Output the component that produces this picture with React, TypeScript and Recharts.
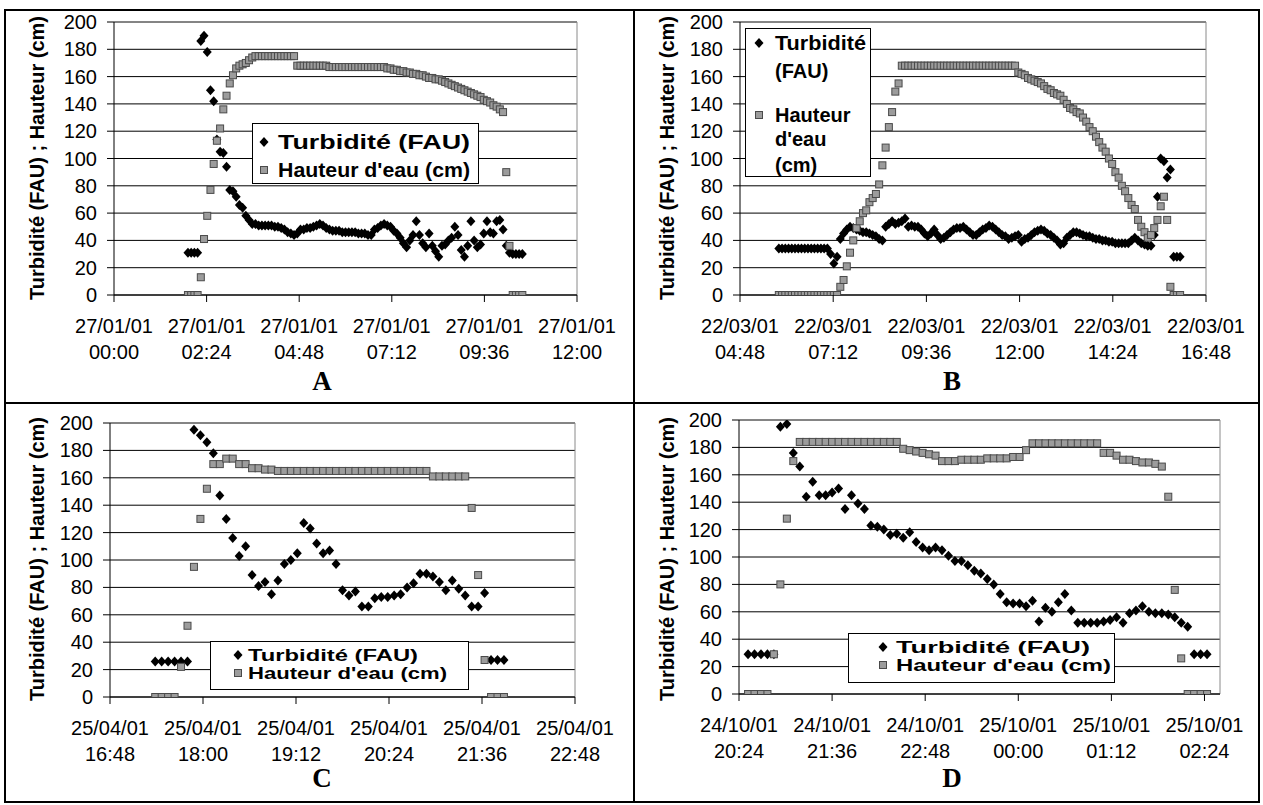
import React from 'react';
import { ScatterChart, Scatter, XAxis, YAxis, CartesianGrid, ReferenceLine } from 'recharts';

const FONT = '"Liberation Sans", Arial, sans-serif';
const SERIF = '"Liberation Serif", "Times New Roman", serif';

const yTicks = [0, 20, 40, 60, 80, 100, 120, 140, 160, 180, 200];

// ---------- Panel A (minutes after 27/01/01 00:00) ----------
const aTime = [
  115, 120, 125, 130, 135, 140, 145, 150, 155, 160,
  165, 170, 175, 180, 185, 190, 195, 200, 205, 210,
  215, 220, 225, 230, 235, 240, 245, 250, 255, 260,
  265, 270, 275, 280, 285, 290, 295, 300, 305, 310,
  315, 320, 325, 330, 335, 340, 345, 350, 355, 360,
  365, 370, 375, 380, 385, 390, 395, 400, 405, 410,
  415, 420, 425, 430, 435, 440, 445, 450, 455, 460,
  465, 470, 475, 480, 485, 490, 495, 500, 505, 510,
  515, 520, 525, 530, 535, 540, 545, 550, 555, 560,
  565, 570, 575, 580, 585, 590, 595, 600, 605, 610,
  615, 620, 625, 630, 635,
];
const aTurb = [
  31, 31, 31, 31, 186, 190, 178, 150, 142, 114,
  105, 104, 94, 77, 76, 72, 66, 64, 58, 55,
  52, 52, 51, 51, 51, 51, 51, 50, 50, 49,
  48, 46, 45, 44, 45, 48, 48, 49, 49, 50,
  51, 52, 51, 49, 48, 47, 47, 47, 46, 46,
  46, 46, 46, 45, 45, 45, 44, 44, 48, 49,
  51, 52, 51, 50, 47, 45, 42, 38, 35, 40,
  44, 54, 44, 38, 35, 45, 36, 32, 28, 36,
  37, 40, 42, 50, 44, 33, 28, 36, 54, 40,
  35, 37, 45, 54, 46, 45, 54, 55, 48, 36,
  31, 30, 30, 30, 30,
];
const aHaut = [
  0, 0, 0, 0, 13, 41, 58, 77, 96, 113,
  122, 136, 146, 155, 161, 166, 168, 169, 170, 172,
  174, 175, 175, 175, 175, 175, 175, 175, 175, 175,
  175, 175, 175, 175, 168, 168, 168, 168, 168, 168,
  168, 168, 168, 168, 167, 167, 167, 167, 167, 167,
  167, 167, 167, 167, 167, 167, 167, 167, 167, 167,
  167, 167, 166, 166, 165, 165, 164, 164, 163, 163,
  162, 162, 161, 161, 160, 159, 159, 158, 158, 157,
  156, 155, 154, 153, 152, 151, 150, 149, 148, 147,
  146, 145, 143, 142, 141, 139, 138, 136, 134, 90,
  36, 0, 0, 0, 0,
];
const aTickVals = [0, 144, 288, 432, 576, 720];
const aTickDates = ['27/01/01', '27/01/01', '27/01/01', '27/01/01', '27/01/01', '27/01/01'];
const aTickTimes = ['00:00', '02:24', '04:48', '07:12', '09:36', '12:00'];

// ---------- Panel B (minutes after 22/03/01 04:48) ----------
const bTime = [
  60, 65, 70, 75, 80, 85, 90, 95, 100, 105,
  110, 115, 120, 125, 130, 135, 140, 145, 150, 155,
  160, 165, 170, 175, 180, 185, 190, 195, 200, 205,
  210, 215, 220, 225, 230, 235, 240, 245, 250, 255,
  260, 265, 270, 275, 280, 285, 290, 295, 300, 305,
  310, 315, 320, 325, 330, 335, 340, 345, 350, 355,
  360, 365, 370, 375, 380, 385, 390, 395, 400, 405,
  410, 415, 420, 425, 430, 435, 440, 445, 450, 455,
  460, 465, 470, 475, 480, 485, 490, 495, 500, 505,
  510, 515, 520, 525, 530, 535, 540, 545, 550, 555,
  560, 565, 570, 575, 580, 585, 590, 595, 600, 605,
  610, 615, 620, 625, 630, 635, 640, 645, 650, 655,
  660, 665, 670, 675, 680,
];
const bTurb = [
  34, 34, 34, 34, 34, 34, 34, 34, 34, 34,
  34, 34, 34, 34, 34, 34, 30, 23, 28, 41,
  45, 48, 50, 49, 48, 47, 46, 46, 45, 44,
  43, 41, 40, 50, 52, 54, 52, 53, 54, 56,
  50, 51, 50, 50, 48, 45, 43, 45, 48, 44,
  41, 42, 44, 46, 48, 49, 49, 50, 48, 46,
  44, 44, 46, 48, 49, 51, 50, 48, 46, 44,
  43, 41, 42, 43, 44, 39, 41, 42, 44, 46,
  47, 48, 47, 45, 44, 42, 40, 37, 38, 42,
  44, 46, 46, 45, 44, 43, 43, 42, 41, 41,
  40, 40, 39, 39, 38, 38, 38, 38, 38, 40,
  42, 40, 38, 37, 36, 36, 44, 72, 100, 98,
  86, 92, 28, 28, 28,
];
const bHaut = [
  0, 0, 0, 0, 0, 0, 0, 0, 0, 0,
  0, 0, 0, 0, 0, 0, 0, 0, 0, 6,
  11, 21, 31, 40, 49, 54, 60, 62, 68, 71,
  74, 81, 95, 108, 123, 134, 149, 155, 168, 168,
  168, 168, 168, 168, 168, 168, 168, 168, 168, 168,
  168, 168, 168, 168, 168, 168, 168, 168, 168, 168,
  168, 168, 168, 168, 168, 168, 168, 168, 168, 168,
  168, 168, 168, 168, 163, 162, 161, 159, 158, 157,
  156, 155, 153, 151, 150, 148, 147, 146, 143, 140,
  137, 136, 134, 133, 130, 127, 123, 120, 116, 112,
  108, 105, 100, 96, 90, 86, 80, 76, 71, 66,
  63, 55, 50, 46, 42, 44, 49, 55, 65, 72,
  55, 6, 0, 0, 0,
];
const bTickVals = [0, 144, 288, 432, 576, 720];
const bTickDates = ['22/03/01', '22/03/01', '22/03/01', '22/03/01', '22/03/01', '22/03/01'];
const bTickTimes = ['04:48', '07:12', '09:36', '12:00', '14:24', '16:48'];

// ---------- Panel C (minutes after 25/04/01 16:48) ----------
const cTime = [
  35, 40, 45, 50, 55, 60, 65, 70, 75, 80,
  85, 90, 95, 100, 105, 110, 115, 120, 125, 130,
  135, 140, 145, 150, 155, 160, 165, 170, 175, 180,
  185, 190, 195, 200, 205, 210, 215, 220, 225, 230,
  235, 240, 245, 250, 255, 260, 265, 270, 275, 280,
  285, 290, 295, 300, 305,
];
const cTurb = [
  26, 26, 26, 26, 26, 26, 195, 191, 186, 178,
  147, 130, 116, 103, 110, 89, 81, 84, 75, 85,
  97, 100, 105, 127, 123, 112, 105, 107, 97, 78,
  74, 77, 66, 66, 72, 73, 73, 74, 75, 80,
  83, 90, 90, 88, 84, 78, 85, 79, 74, 66,
  66, 76, 27, 27, 27,
];
const cHaut = [
  0, 0, 0, 0, 22, 52, 95, 130, 152, 170,
  170, 174, 174, 170, 170, 167, 167, 166, 166, 165,
  165, 165, 165, 165, 165, 165, 165, 165, 165, 165,
  165, 165, 165, 165, 165, 165, 165, 165, 165, 165,
  165, 165, 165, 161, 161, 161, 161, 161, 161, 138,
  89, 27, 0, 0, 0,
];
const cTickVals = [0, 72, 144, 216, 288, 360];
const cTickDates = ['25/04/01', '25/04/01', '25/04/01', '25/04/01', '25/04/01', '25/04/01'];
const cTickTimes = ['16:48', '18:00', '19:12', '20:24', '21:36', '22:48'];

// ---------- Panel D (minutes after 24/10/01 20:24) ----------
const dTime = [
  7, 12, 17, 22, 27, 32, 37, 42, 47, 52,
  57, 62, 67, 72, 77, 82, 87, 92, 97, 102,
  107, 112, 117, 122, 127, 132, 137, 142, 147, 152,
  157, 162, 167, 172, 177, 182, 187, 192, 197, 202,
  207, 212, 217, 222, 227, 232, 237, 242, 247, 252,
  257, 262, 267, 272, 277, 282, 287, 292, 297, 302,
  307, 312, 317, 322, 327, 332, 337, 342, 347, 352,
  357, 362,
];
const dTurb = [
  29, 29, 29, 29, 29, 195, 197, 176, 166, 144,
  155, 145, 145, 147, 150, 135, 145, 139, 135, 123,
  122, 120, 116, 117, 114, 118, 111, 107, 105, 107,
  105, 101, 97, 97, 94, 90, 88, 84, 80, 73,
  67, 66, 66, 64, 68, 53, 63, 60, 67, 73,
  61, 52, 52, 52, 52, 53, 54, 56, 52, 59,
  61, 64, 60, 59, 59, 58, 56, 52, 49, 29,
  29, 29,
];
const dHaut = [
  0, 0, 0, 0, 29, 80, 128, 170, 184, 184,
  184, 184, 184, 184, 184, 184, 184, 184, 184, 184,
  184, 184, 184, 184, 179, 178, 177, 176, 175, 174,
  170, 170, 170, 171, 171, 171, 171, 172, 172, 172,
  172, 173, 173, 178, 183, 183, 183, 183, 183, 183,
  183, 183, 183, 183, 183, 176, 176, 174, 171, 171,
  170, 169, 169, 168, 166, 144, 76, 26, 0, 0,
  0, 0,
];
const dTickVals = [0, 72, 144, 216, 288, 360];
const dTickDates = ['24/10/01', '24/10/01', '24/10/01', '25/10/01', '25/10/01', '25/10/01'];
const dTickTimes = ['20:24', '21:36', '22:48', '00:00', '01:12', '02:24'];

const TITLE_Y = 'Turbidité (FAU) ; Hauteur (cm)';
const LEG_TURB = 'Turbidité (FAU)';
const LEG_HAUT = "Hauteur d'eau (cm)";

const Diamond = (props: any) => {
  const { cx, cy } = props;
  if (cx == null || cy == null || isNaN(cx) || isNaN(cy)) return null;
  return <polygon points={`${cx},${cy - 5} ${cx + 4.5},${cy} ${cx},${cy + 5} ${cx - 4.5},${cy}`} fill="#000" />;
};

const Square = (props: any) => {
  const { cx, cy } = props;
  if (cx == null || cy == null || isNaN(cx) || isNaN(cy)) return null;
  return <rect x={cx - 3.5} y={cy - 3.5} width={7} height={7} fill="#9c9c9c" stroke="#4a4a4a" strokeWidth={1} />;
};

const YTick = (props: any) => {
  const { x, y, payload } = props;
  return (
    <text x={x} y={y + 7} textAnchor="end" fontSize={20} fontFamily={FONT} fill="#000">
      {payload.value}
    </text>
  );
};

const makeXTick = (vals: number[], dates: string[], times: string[]) => (props: any) => {
  const { x, y, payload } = props;
  const i = vals.indexOf(payload.value);
  if (i < 0) return null;
  return (
    <text x={x} y={y} textAnchor="middle" fontSize={20} fontFamily={FONT} fill="#000">
      <tspan x={x} y={y + 29}>{dates[i]}</tspan>
      <tspan x={x} y={y + 55}>{times[i]}</tspan>
    </text>
  );
};

type PanelProps = {
  time: number[]; turb: number[]; haut: number[];
  ticks: number[]; dates: string[]; times: string[]; xMax: number;
  box: { left: number; top: number; w: number; h: number };
  plot: { x0: number; x1: number; y0: number; y1: number };
};

function Panel(p: PanelProps) {
  const turbData = p.time.map((t, i) => ({ t, v: p.turb[i] }));
  const hautData = p.time.map((t, i) => ({ t, v: p.haut[i] }));
  const { left, top, w, h } = p.box;
  const margin = { top: p.plot.y0 - top, right: left + w - p.plot.x1, bottom: 0, left: 0 };
  const XT = makeXTick(p.ticks, p.dates, p.times);
  return (
    <div style={{ position: 'absolute', left, top, width: w, height: h }}>
      <ScatterChart width={w} height={h} margin={margin}>
        <CartesianGrid vertical={false} stroke="#000" strokeWidth={1} fill="none" />
        <XAxis
          type="number" dataKey="t" domain={[0, p.xMax]} ticks={p.ticks} interval={0}
          height={top + h - p.plot.y1} tickSize={7} tickMargin={2}
          axisLine={{ stroke: '#000' }} tickLine={{ stroke: '#000' }}
          tick={XT} allowDataOverflow
        />
        <YAxis
          type="number" dataKey="v" domain={[0, 200]} ticks={yTicks} interval={0}
          width={p.plot.x0 - left} tickSize={7} tickMargin={10}
          axisLine={{ stroke: '#000' }} tickLine={{ stroke: '#000' }}
          tick={YTick} allowDataOverflow
        />
        <ReferenceLine y={200} stroke="#8a8a8a" strokeWidth={1} />
        <ReferenceLine x={p.xMax} stroke="#8a8a8a" strokeWidth={1} />
        <Scatter data={turbData} shape={Diamond} isAnimationActive={false} />
        <Scatter data={hautData} shape={Square} isAnimationActive={false} />
      </ScatterChart>
    </div>
  );
}

const LegDiamond = ({ x, y }: { x: number; y: number }) => (
  <polygon points={`${x},${y - 5} ${x + 4.5},${y} ${x},${y + 5} ${x - 4.5},${y}`} fill="#000" />
);
const LegSquare = ({ x, y }: { x: number; y: number }) => (
  <rect x={x - 3.5} y={y - 3.5} width={7} height={7} fill="#9c9c9c" stroke="#4a4a4a" strokeWidth={1} />
);

const YTitle = ({ cx, cy }: { cx: number; cy: number }) => (
  <text x={cx} y={cy + 7} transform={`rotate(-90 ${cx} ${cy})`} textAnchor="middle"
    fontSize={20} fontWeight="bold" fontFamily={FONT} fill="#000">{TITLE_Y}</text>
);

const Letter = ({ x, y, s }: { x: number; y: number; s: string }) => (
  <text x={x} y={y} textAnchor="middle" fontSize={27} fontWeight="bold" fontFamily={SERIF} fill="#000">{s}</text>
);

export default function App() {
  const lt = { fontFamily: FONT, fontWeight: 'bold' as const, fill: '#000' };
  return (
    <div style={{ position: 'absolute', left: 0, top: 0, width: 1263, height: 805, background: '#fff', overflow: 'hidden' }}>
      <Panel time={aTime} turb={aTurb} haut={aHaut} ticks={aTickVals} dates={aTickDates} times={aTickTimes} xMax={720}
        box={{ left: 6, top: 12, w: 626, h: 388 }} plot={{ x0: 114, x1: 577, y0: 22, y1: 295 }} />
      <Panel time={bTime} turb={bTurb} haut={bHaut} ticks={bTickVals} dates={bTickDates} times={bTickTimes} xMax={720}
        box={{ left: 636, top: 12, w: 622, h: 388 }} plot={{ x0: 740, x1: 1206, y0: 22, y1: 295 }} />
      <Panel time={cTime} turb={cTurb} haut={cHaut} ticks={cTickVals} dates={cTickDates} times={cTickTimes} xMax={360}
        box={{ left: 6, top: 405, w: 626, h: 396 }} plot={{ x0: 110, x1: 575, y0: 423, y1: 697 }} />
      <Panel time={dTime} turb={dTurb} haut={dHaut} ticks={dTickVals} dates={dTickDates} times={dTickTimes} xMax={372}
        box={{ left: 636, top: 405, w: 622, h: 396 }} plot={{ x0: 739, x1: 1220, y0: 420, y1: 694 }} />

      <svg width={1263} height={805} style={{ position: 'absolute', left: 0, top: 0, pointerEvents: 'none' }}>
        {/* frame */}
        <rect x={4} y={9} width={1256} height={2} fill="#000" />
        <rect x={4} y={801} width={1256} height={2} fill="#000" />
        <rect x={4} y={9} width={2} height={794} fill="#000" />
        <rect x={1258} y={9} width={2} height={794} fill="#000" />
        <rect x={633} y={9} width={2} height={794} fill="#000" />
        <rect x={4} y={402} width={1256} height={2} fill="#000" />

        <YTitle cx={37} cy={158} />
        <YTitle cx={667} cy={158} />
        <YTitle cx={37} cy={559} />
        <YTitle cx={667} cy={559} />

        <Letter x={322} y={390} s="A" />
        <Letter x={952} y={390} s="B" />
        <Letter x={322} y={787} s="C" />
        <Letter x={952} y={787} s="D" />

        {/* legend A */}
        <rect x={252.5} y={123.5} width={226} height={60} fill="#fff" stroke="#000" strokeWidth={1} />
        <LegDiamond x={264} y={142} />
        <text x={278} y={149} fontSize={20} {...lt} textLength={192} lengthAdjust="spacingAndGlyphs">{LEG_TURB}</text>
        <LegSquare x={264} y={170} />
        <text x={278} y={177} fontSize={20} {...lt} textLength={192} lengthAdjust="spacingAndGlyphs">{LEG_HAUT}</text>

        {/* legend B */}
        <rect x={745.5} y={28.5} width={125} height={148} fill="#fff" stroke="#000" strokeWidth={1} />
        <LegDiamond x={759} y={43} />
        <text x={775} y={50} fontSize={20} {...lt} textLength={91} lengthAdjust="spacingAndGlyphs">Turbidité</text>
        <text x={775} y={78} fontSize={20} {...lt}>(FAU)</text>
        <LegSquare x={759} y={115} />
        <text x={775} y={122} fontSize={20} {...lt}>Hauteur</text>
        <text x={775} y={146} fontSize={20} {...lt}>d'eau</text>
        <text x={775} y={172} fontSize={20} {...lt}>(cm)</text>

        {/* legend C */}
        <rect x={210.5} y={641.5} width={258} height={48} fill="#fff" stroke="#000" strokeWidth={1} />
        <LegDiamond x={238} y={655} />
        <text x={248} y={661} fontSize={16} {...lt} textLength={170} lengthAdjust="spacingAndGlyphs">{LEG_TURB}</text>
        <LegSquare x={238} y={673} />
        <text x={248} y={679} fontSize={16} {...lt} textLength={199} lengthAdjust="spacingAndGlyphs">{LEG_HAUT}</text>

        {/* legend D */}
        <rect x={848.5} y={633.5} width={266} height={49} fill="#fff" stroke="#000" strokeWidth={1} />
        <LegDiamond x={883} y={647} />
        <text x={896} y={653} fontSize={16} {...lt} textLength={194} lengthAdjust="spacingAndGlyphs">{LEG_TURB}</text>
        <LegSquare x={883} y={665} />
        <text x={896} y={671} fontSize={16} {...lt} textLength={215} lengthAdjust="spacingAndGlyphs">{LEG_HAUT}</text>
      </svg>
    </div>
  );
}
